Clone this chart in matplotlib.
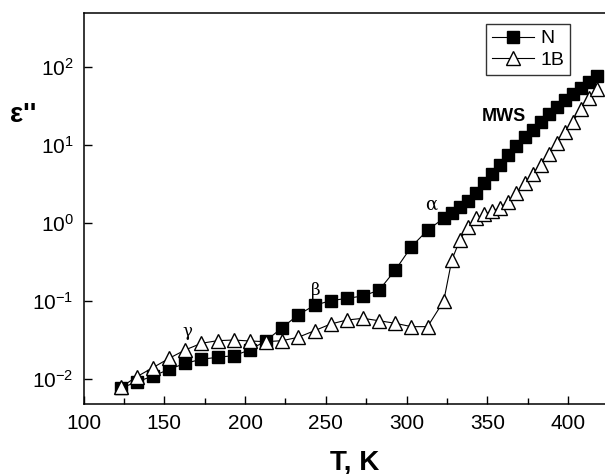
import matplotlib
matplotlib.use("Agg")
import matplotlib.pyplot as plt
from matplotlib.ticker import MultipleLocator, LogLocator, NullLocator

plt.rcParams["font.family"] = ["Liberation Sans", "DejaVu Sans"]
plt.rcParams["mathtext.fontset"] = "custom"
plt.rcParams["mathtext.rm"] = "Liberation Sans"
plt.rcParams["mathtext.it"] = "Liberation Sans:italic"
plt.rcParams["axes.unicode_minus"] = False

# temperatures (K)
T_low = [123, 133, 143, 153, 163, 173, 183, 193, 203, 213,
         223, 233, 243, 253, 263, 273, 283, 293, 303, 313]
T_high = [323, 328, 333, 338, 343, 348, 353, 358, 363, 368,
          373, 378, 383, 388, 393, 398, 403, 408, 413, 418]
T = T_low + T_high

# dielectric loss, sample N
eps_N = [0.0076, 0.0092, 0.0109, 0.0133, 0.0159, 0.0179, 0.0190, 0.0199, 0.0236, 0.031,
         0.0455, 0.0667, 0.088, 0.101, 0.108, 0.116, 0.138, 0.249, 0.497, 0.81,
         1.15, 1.36, 1.62, 1.93, 2.40, 3.23, 4.25, 5.54, 7.41, 9.77,
         12.6, 15.8, 20.0, 25.1, 30.9, 37.2, 44.7, 53.7, 64.6, 77.6]

# dielectric loss, sample 1B
eps_1B = [0.0078, 0.0107, 0.0140, 0.0184, 0.0236, 0.0287, 0.0310, 0.0316, 0.0307, 0.0301,
          0.0310, 0.0343, 0.0416, 0.0507, 0.0570, 0.0600, 0.0558, 0.0518, 0.0469, 0.0469,
          0.100, 0.336, 0.605, 0.897, 1.15, 1.29, 1.41, 1.58, 1.86, 2.40,
          3.24, 4.27, 5.62, 7.59, 10.5, 14.5, 20.0, 28.8, 39.8, 52.5]

W, H = 605, 474
fig = plt.figure(figsize=(W / 100, H / 100), dpi=100)
left, right = 83.5 / W, 625 / W
bottom, top = 1 - 404 / H, 1 - 13 / H
ax = fig.add_axes([left, bottom, right - left, top - bottom])

ax.plot(T, eps_N, color="black", lw=0.8, marker="s", ms=8,
        mfc="black", mec="black", label="N")
ax.plot(T, eps_1B, color="black", lw=0.8, marker="^", ms=9.5,
        mfc="white", mec="black", mew=1.0, label="1B")

ax.set_yscale("log")
ax.set_xlim(100, 100 + (625 - 84.3) / 1.613)
ax.set_ylim(10 ** (-2 - 25 / 78), 10 ** (2 + 54 / 78))

ax.xaxis.set_major_locator(MultipleLocator(50))
ax.xaxis.set_minor_locator(MultipleLocator(25))
ax.yaxis.set_major_locator(LogLocator(base=10, numticks=10))
ax.yaxis.set_minor_locator(NullLocator())

ax.tick_params(which="both", direction="in", top=False, right=False,
               labelsize=15, width=1.0)
ax.tick_params(which="major", length=6, pad=7)
ax.tick_params(which="minor", length=4)
for s in ax.spines.values():
    s.set_linewidth(1.1)

ax.set_xlabel("T, K", fontsize=20, fontweight="bold", labelpad=12)
fig.text(23 / W, 1 - 115 / H, "ε''", fontsize=20, fontweight="bold",
         ha="center", va="center")

# relaxation labels
ax.text(164.5, 0.0404, "γ", fontsize=12, family="DejaVu Serif", ha="center", va="center")
ax.text(244, 0.138, "β", fontsize=12, family="DejaVu Serif", ha="center", va="center")
ax.text(315.5, 1.70, "α", fontsize=13, family="DejaVu Serif", ha="center", va="center")
ax.text(360, 22.9, "MWS", fontsize=13, fontweight="bold", ha="center", va="center")

leg = ax.legend(loc="upper right", bbox_to_anchor=(570 / W, 1 - 24 / H),
                bbox_transform=fig.transFigure, borderaxespad=0, fontsize=14,
                frameon=True, fancybox=False, edgecolor="black",
                handlelength=2.2, handletextpad=0.3, borderpad=0.3,
                labelspacing=0.2)
leg.get_frame().set_linewidth(1.0)

fig.savefig("out.png", dpi=100)
